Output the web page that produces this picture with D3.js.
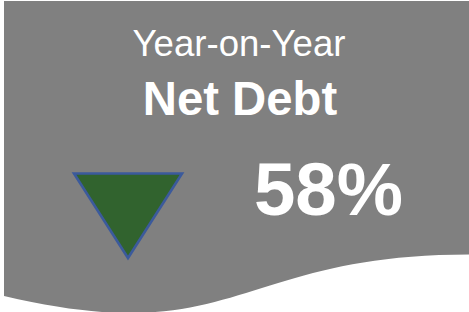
<!DOCTYPE html>
<html><head><meta charset="utf-8">
<script src="https://cdn.jsdelivr.net/npm/d3@7"></script>
<style>html,body{margin:0;padding:0;background:#fff;overflow:hidden}</style>
</head><body>
<svg id="c" width="469" height="312"></svg>
<script>
const subtitle = ["Year-on-Year"];
const titles = ["Net Debt"];
const changeValues = [58];
const directions = ["down"];

const svg = d3.select("#c");

// card shape (document flowchart shape with wavy bottom), in 21600-unit space
const sx = d3.scaleLinear().domain([0, 21600]).range([4, 469]);
const sy = d3.scaleLinear().domain([0, 21600]).range([1, 317]);
const p = d3.path();
p.moveTo(sx(0), sy(0));
p.lineTo(sx(21600), sy(0));
p.lineTo(sx(21600), sy(17322));
p.bezierCurveTo(sx(10800), sy(17322), sx(10800), sy(23922), sx(0), sy(20172));
p.closePath();
svg.append("path").attr("d", p.toString()).attr("fill", "#808080");

const ff = "'Liberation Sans', Arial, sans-serif";
svg.append("text").attr("x", 239).attr("y", 56).attr("text-anchor", "middle")
  .style("font-family", ff).attr("font-size", 36.6)
  .attr("fill", "#fff").text(subtitle[0]);
svg.append("text").attr("x", 240).attr("y", 115).attr("text-anchor", "middle")
  .style("font-family", ff).attr("font-weight", "bold").attr("font-size", 47.3)
  .attr("fill", "#fff").text(titles[0]);
svg.append("text").attr("x", 328.5).attr("y", 215).attr("text-anchor", "middle")
  .style("font-family", ff).attr("font-weight", "bold").attr("font-size", 74.5)
  .attr("fill", "#fff").text(changeValues[0] + "%");

// direction triangle
const tx = d3.scaleLinear().domain([0, 1]).range([74, 182]);
const ty = d3.scaleLinear().domain([0, 1]).range([173.5, 258]);
const tri = directions[0] === "down"
  ? [[0, 0], [1, 0], [0.5, 1]]
  : [[0, 1], [1, 1], [0.5, 0]];
svg.append("path")
  .attr("d", d3.line().x(d => tx(d[0])).y(d => ty(d[1])).curve(d3.curveLinearClosed)(tri))
  .attr("fill", "#31632e").attr("stroke", "#3b5a9c").attr("stroke-width", 2.6)
  .attr("stroke-linejoin", "miter");
</script>
</body></html>
